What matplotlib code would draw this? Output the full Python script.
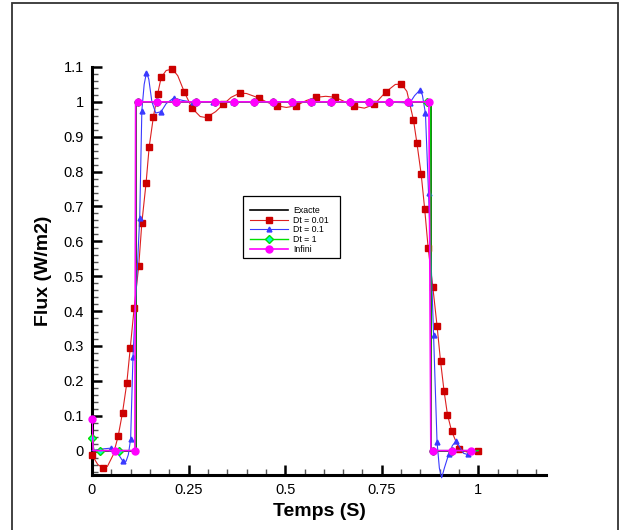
import matplotlib.pyplot as plt
from matplotlib.lines import Line2D
from matplotlib.patches import Rectangle

plt.rcParams["font.family"] = ["Liberation Sans", "DejaVu Sans"]

# Exacte
exact_t = [0.0, 0.114, 0.114, 0.878, 0.878, 1.0]
exact_flux = [0.0, 0.0, 1.0, 1.0, 0.0, 0.0]

# Dt = 0.01 (courbe + marqueurs)
dt001_t = [0.0, 0.015, 0.029, 0.040, 0.055, 0.068, 0.079, 0.090, 0.099, 0.109,
           0.121, 0.129, 0.140, 0.148, 0.159, 0.170, 0.179, 0.192, 0.208, 0.222,
           0.239, 0.259, 0.280, 0.295, 0.300, 0.320, 0.340, 0.360, 0.382, 0.400,
           0.432, 0.455, 0.478, 0.503, 0.528, 0.555, 0.580, 0.605, 0.630, 0.655,
           0.679, 0.705, 0.731, 0.760, 0.785, 0.801, 0.815, 0.832, 0.841, 0.852,
           0.861, 0.870, 0.882, 0.893, 0.902, 0.911, 0.920, 0.931, 0.950, 0.970,
           1.0]
dt001_flux = [-0.013, -0.040, -0.050, -0.045, -0.012, 0.043, 0.109, 0.193, 0.294, 0.408,
              0.530, 0.653, 0.768, 0.871, 0.958, 1.023, 1.070, 1.090, 1.094, 1.075,
              1.028, 0.982, 0.958, 0.955, 0.958, 0.972, 0.993, 1.013, 1.025, 1.024,
              1.011, 0.998, 0.989, 0.984, 0.989, 1.004, 1.013, 1.016, 1.013, 1.000,
              0.987, 0.982, 0.993, 1.028, 1.050, 1.051, 1.030, 0.948, 0.881, 0.792,
              0.693, 0.581, 0.470, 0.358, 0.257, 0.172, 0.103, 0.055, 0.005, -0.004,
              -0.002]
dt001_mt = [0.0, 0.029, 0.068, 0.079, 0.090, 0.099, 0.109, 0.121, 0.129, 0.140,
            0.148, 0.159, 0.170, 0.179, 0.208, 0.239, 0.259, 0.300, 0.340, 0.382,
            0.432, 0.478, 0.528, 0.580, 0.630, 0.679, 0.731, 0.760, 0.801, 0.832,
            0.841, 0.852, 0.861, 0.870, 0.882, 0.893, 0.902, 0.911, 0.920, 0.931,
            0.950, 1.0]
dt001_mflux = [-0.013, -0.050, 0.043, 0.109, 0.193, 0.294, 0.408, 0.530, 0.653, 0.768,
               0.871, 0.958, 1.023, 1.070, 1.094, 1.028, 0.982, 0.958, 0.993, 1.025,
               1.011, 0.989, 0.989, 1.013, 1.013, 0.987, 0.993, 1.028, 1.051, 0.948,
               0.881, 0.792, 0.693, 0.581, 0.470, 0.358, 0.257, 0.172, 0.103, 0.055,
               0.005, -0.002]

# Dt = 0.1
dt01_t = [0.0, 0.020, 0.049, 0.065, 0.079, 0.088, 0.094, 0.100, 0.106, 0.115,
          0.1235, 0.129, 0.135, 0.141, 0.147, 0.155, 0.165, 0.179, 0.192, 0.211,
          0.235, 0.262, 0.313, 0.365, 0.418, 0.468, 0.519, 0.569, 0.617, 0.667,
          0.718, 0.768, 0.800, 0.822, 0.835, 0.848, 0.855, 0.863, 0.871, 0.878,
          0.884, 0.893, 0.899, 0.905, 0.912, 0.923, 0.933, 0.943, 0.952, 0.962,
          0.972, 0.985, 1.0]
dt01_flux = [0.0, 0.004, 0.007, -0.005, -0.029, -0.031, -0.012, 0.033, 0.267, 0.47,
             0.668, 0.975, 1.05, 1.084, 1.065, 1.000, 0.968, 0.972, 0.995, 1.011,
             1.004, 0.999, 1.000, 1.001, 1.000, 0.999, 1.000, 1.000, 1.001, 1.000,
             1.000, 0.999, 0.998, 0.996, 1.018, 1.033, 1.020, 0.967, 0.738, 0.53,
             0.332, 0.025, -0.05, -0.078, -0.05, -0.011, 0.015, 0.027, 0.010, -0.008,
             -0.011, -0.005, 0.0]
dt01_mt = [0.049, 0.079, 0.100, 0.106, 0.1235, 0.129, 0.141, 0.179, 0.211, 0.262,
           0.313, 0.365, 0.418, 0.468, 0.519, 0.569, 0.617, 0.667, 0.718, 0.768,
           0.822, 0.848, 0.863, 0.871, 0.884, 0.893, 0.923, 0.943, 0.972]
dt01_mflux = [0.007, -0.029, 0.033, 0.267, 0.668, 0.975, 1.084, 0.972, 1.011, 0.999,
              1.000, 1.001, 1.000, 0.999, 1.000, 1.000, 1.001, 1.000, 1.000, 0.999,
              0.996, 1.033, 0.967, 0.738, 0.332, 0.025, -0.011, 0.027, -0.011]

# Dt = 1
dt1_t = [0.0, 0.005, 0.021, 0.071, 0.113, 0.113, 0.877, 0.877, 1.0]
dt1_flux = [0.035, 0.0, 0.0, 0.0, 0.0, 1.0, 1.0, 0.0, 0.0]
dt1_mt = [0.0, 0.021, 0.071, 0.118, 0.168, 0.218, 0.268, 0.318, 0.368, 0.418,
          0.468, 0.518, 0.568, 0.618, 0.668, 0.718, 0.768, 0.818, 0.868, 0.882,
          0.932]
dt1_mflux = [0.035, 0.0, 0.0, 1.0, 1.0, 1.0, 1.0, 1.0, 1.0, 1.0,
             1.0, 1.0, 1.0, 1.0, 1.0, 1.0, 1.0, 1.0, 1.0, 0.0,
             0.0]

# Infini
inf_t = [0.0, 0.003, 0.060, 0.111, 0.113, 0.118, 0.168, 0.218, 0.268, 0.318,
         0.368, 0.418, 0.468, 0.518, 0.568, 0.618, 0.668, 0.718, 0.768, 0.818,
         0.872, 0.877, 0.882, 0.932, 0.982]
inf_flux = [0.09, 0.0, 0.0, 0.0, 1.0, 1.0, 1.0, 1.0, 1.0, 1.0,
            1.0, 1.0, 1.0, 1.0, 1.0, 1.0, 1.0, 1.0, 1.0, 1.0,
            1.0, 0.0, 0.0, 0.0, 0.0]
inf_mt = [0.0, 0.060, 0.111, 0.118, 0.168, 0.218, 0.268, 0.318, 0.368, 0.418,
          0.468, 0.518, 0.568, 0.618, 0.668, 0.718, 0.768, 0.818, 0.872, 0.882,
          0.932, 0.982]
inf_mflux = [0.09, 0.0, 0.0, 1.0, 1.0, 1.0, 1.0, 1.0, 1.0, 1.0,
             1.0, 1.0, 1.0, 1.0, 1.0, 1.0, 1.0, 1.0, 1.0, 0.0,
             0.0, 0.0]

x_ticks = [0, 0.25, 0.5, 0.75, 1]
x_labels = ["0", "0.25", "0.5", "0.75", "1"]
y_ticks = [0, 0.1, 0.2, 0.3, 0.4, 0.5, 0.6, 0.7, 0.8, 0.9, 1, 1.1]
y_labels = ["0", "0.1", "0.2", "0.3", "0.4", "0.5", "0.6", "0.7", "0.8", "0.9", "1", "1.1"]

fig = plt.figure(figsize=(6.26, 5.30), dpi=100)
ax = fig.add_axes([92 / 626, 55 / 530, 454 / 626, 408 / 530])

# page frame
fig.patches.append(Rectangle((12 / 626, -0.05), 606 / 626, 1.05 - 3 / 530,
                             transform=fig.transFigure, fill=False,
                             edgecolor="#333333", linewidth=1.3))

red = "#dd2020"
blue = "#3a3aff"
green = "#00e000"
magenta = "#ff00ff"

ax.plot(exact_t, exact_flux, color="black", lw=1.2, zorder=2)
ax.plot(dt001_t, dt001_flux, color=red, lw=0.8, zorder=3)
ax.plot(dt001_mt, dt001_mflux, ls="none", marker="s", ms=3.8, color="#cc0000",
        zorder=3, clip_on=False)
ax.plot(dt01_t, dt01_flux, color=blue, lw=0.8, zorder=4, clip_on=False)
ax.plot(dt01_mt, dt01_mflux, ls="none", marker="^", ms=3.5, color=blue,
        zorder=4, clip_on=False)
ax.plot(dt1_t, dt1_flux, color=green, lw=1.0, zorder=5)
ax.plot(dt1_mt, dt1_mflux, ls="none", marker="D", ms=3.6, mfc="#00ffcc",
        mec=green, zorder=5, clip_on=False)
ax.plot(inf_t, inf_flux, color=magenta, lw=1.2, zorder=6)
ax.plot(inf_mt, inf_mflux, ls="none", marker="o", ms=5.0, color=magenta,
        zorder=6, clip_on=False)

ax.set_xlim(0, 1.175)
ax.set_ylim(-0.07, 1.1)
ax.set_xticks(x_ticks)
ax.set_xticklabels(x_labels)
ax.set_yticks(y_ticks)
ax.set_yticklabels(y_labels)
ax.set_xticks([i * 0.05 for i in range(24) if i % 5 != 0], minor=True)
ax.set_yticks([i * 0.02 for i in range(-3, 55) if i % 5 != 0], minor=True)

for side in ["top", "right"]:
    ax.spines[side].set_visible(False)
for side in ["left", "bottom"]:
    ax.spines[side].set_linewidth(2.2)
ax.tick_params(which="major", direction="in", length=7.5, width=1.8,
               labelsize=10.5, pad=6)
ax.tick_params(which="minor", direction="in", length=4.3, width=1.0,
               color="#555555")
ax.patch.set_alpha(0)

ax.set_xlabel("Temps (S)", fontsize=14, fontweight="bold", labelpad=4)
ax.set_ylabel("Flux (W/m2)", fontsize=14, fontweight="bold", labelpad=8)

# legend
fig.patches.append(Rectangle((243 / 626, 1 - 258 / 530), 97 / 626, 62 / 530,
                             transform=fig.transFigure, facecolor="white",
                             edgecolor="black", linewidth=0.9, zorder=10))
handles = [
    Line2D([], [], color="black", lw=1.2),
    Line2D([], [], color=red, lw=0.8, marker="s", ms=3.8, mfc="#cc0000", mec="#cc0000"),
    Line2D([], [], color=blue, lw=0.8, marker="^", ms=3.5),
    Line2D([], [], color=green, lw=1.0, marker="D", ms=3.6, mfc="#00ffcc", mec=green),
    Line2D([], [], color=magenta, lw=1.2, marker="o", ms=5.0),
]
labels = ["Exacte", "Dt = 0.01", "Dt = 0.1", "Dt = 1", "Infini"]
leg = fig.legend(handles, labels, loc="upper left",
                 bbox_to_anchor=(250 / 626, 1 - 206 / 530), frameon=False,
                 fontsize=6.3, handlelength=4.3, handletextpad=0.6,
                 labelspacing=0.08, borderpad=0, borderaxespad=0)
leg.set_zorder(11)

fig.savefig("out.png", dpi=100)
